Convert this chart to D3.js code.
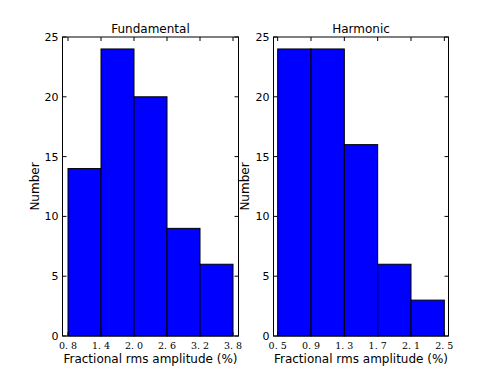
<!DOCTYPE html>
<meta charset="utf-8">
<script src="https://d3js.org/d3.v7.min.js"></script>
<style>
    body { margin: 0; background: #fff; }
    svg text { font-family: "DejaVu Sans", sans-serif; fill: #000; }
</style>
<div id="chart"></div>
<script>
    // histogram data
    var fundEdges = [0.8, 1.4, 2.0, 2.6, 3.2, 3.8];
    var fundCounts = [14, 24, 20, 9, 6];
    var harmEdges = [0.5, 0.9, 1.3, 1.7, 2.1, 2.5];
    var harmCounts = [24, 24, 16, 6, 3];
    var yTicks = [0, 5, 10, 15, 20, 25];

    var width = 498, height = 374;
    var plotTop = 37, plotBottom = 336;

    var svg = d3.select("#chart").append("svg")
        .attr("width", width)
        .attr("height", height);

    var y = d3.scaleLinear().domain([0, 25]).range([plotBottom, plotTop]);

    function panel(title, edges, counts, xDomain, left, right, yLabelX) {
        var x = d3.scaleLinear().domain(xDomain).range([left, right]);
        var g = svg.append("g");

        var bins = counts.map(function(c, i) { return {x0: edges[i], x1: edges[i + 1], n: c}; });

        g.selectAll("rect").data(bins).enter().append("rect")
            .attr("x", function(d) { return x(d.x0); })
            .attr("y", function(d) { return y(d.n); })
            .attr("width", function(d) { return x(d.x1) - x(d.x0); })
            .attr("height", function(d) { return y(0) - y(d.n); })
            .attr("fill", "#0000ff")
            .attr("stroke", "#000")
            .attr("stroke-width", 1);

        // ticks inward on all four sides
        var tk = 4;
        edges.forEach(function(v) {
            g.append("line").attr("x1", x(v)).attr("x2", x(v)).attr("y1", plotBottom).attr("y2", plotBottom - tk).attr("stroke", "#000");
            g.append("line").attr("x1", x(v)).attr("x2", x(v)).attr("y1", plotTop).attr("y2", plotTop + tk).attr("stroke", "#000");
            g.append("text").attr("x", x(v)).attr("y", plotBottom + 13)
                .attr("text-anchor", "middle")
                .style("font-family", "'DejaVu Serif', serif")
                .style("font-size", "9.5px")
                .text(v.toFixed(1).replace(".", ". "));
        });
        yTicks.forEach(function(v) {
            g.append("line").attr("x1", left).attr("x2", left + tk).attr("y1", y(v)).attr("y2", y(v)).attr("stroke", "#000");
            g.append("line").attr("x1", right).attr("x2", right - tk).attr("y1", y(v)).attr("y2", y(v)).attr("stroke", "#000");
            g.append("text").attr("x", left - 4).attr("y", y(v) + 4)
                .attr("text-anchor", "end")
                .style("font-size", "11px")
                .text(v);
        });

        g.append("rect")
            .attr("x", left).attr("y", plotTop)
            .attr("width", right - left).attr("height", plotBottom - plotTop)
            .attr("fill", "none").attr("stroke", "#000").attr("stroke-width", 1);

        g.append("text").attr("x", (left + right) / 2).attr("y", plotTop - 4)
            .attr("text-anchor", "middle").style("font-size", "12px").text(title);

        g.append("text").attr("x", (left + right) / 2).attr("y", 363)
            .attr("text-anchor", "middle").style("font-size", "12px")
            .text("Fractional rms amplitude (%)");

        g.append("text")
            .attr("transform", "translate(" + yLabelX + "," + ((plotTop + plotBottom) / 2) + ") rotate(-90)")
            .attr("text-anchor", "middle").style("font-size", "12px").text("Number");
    }

    panel("Fundamental", fundEdges, fundCounts, [0.7, 3.9], 62.5, 238.5, 39);
    panel("Harmonic", harmEdges, harmCounts, [0.45, 2.55], 273.5, 448.5, 249);
</script>
